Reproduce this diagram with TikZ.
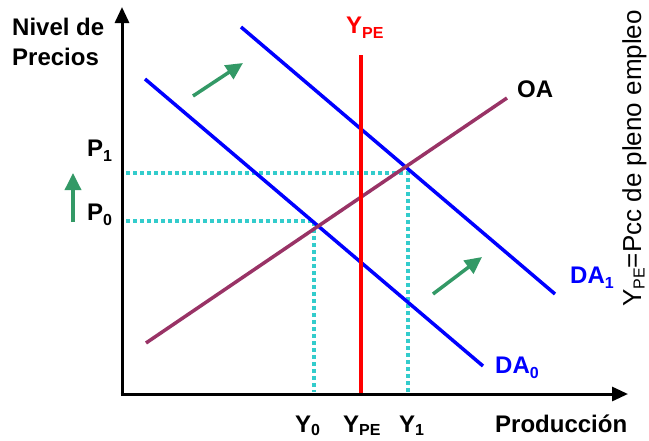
\documentclass[tikz,border=0pt]{standalone}
\usepackage{fontspec}
\setmainfont{Liberation Sans}
\usetikzlibrary{arrows.meta}
\definecolor{dotc}{RGB}{51,204,204}
\definecolor{oac}{RGB}{153,51,102}
\definecolor{grn}{RGB}{51,153,102}
\definecolor{dablue}{RGB}{0,0,255}
\definecolor{ypered}{RGB}{255,0,0}
\newcommand\mysub[1]{\raisebox{-5pt}{\fontsize{16}{16}\selectfont #1}}
\newcommand\mysublow[1]{\raisebox{-3.5pt}{\fontsize{16}{16}\selectfont #1}}
\newcommand\mysubthin[1]{\raisebox{-3.5pt}{\fontsize{16}{16}\selectfont #1}}
\begin{document}
\begin{tikzpicture}[x=1pt,y=-1pt,
  lbl/.style={anchor=base west,inner sep=0pt,font=\fontsize{24}{26}\selectfont\bfseries},
  axisline/.style={line width=3pt,-{Triangle[length=16pt,width=14pt]}},
  curve/.style={line width=3.5pt},
  guide/.style={line width=4pt,dotc,dash pattern=on 4pt off 3pt},
  shiftarrow/.style={line width=3.5pt,grn,-{Triangle[length=17pt,width=16pt]}}
]
\useasboundingbox (0,0) rectangle (649,440);
% named coordinates
\coordinate (O) at (122,394);
\coordinate (ytop) at (122,7);
\coordinate (xend) at (628,394);
\coordinate (da0a) at (145,79);
\coordinate (da0b) at (483,366);
\coordinate (da1a) at (241,27);
\coordinate (da1b) at (555,294);
\coordinate (oaa) at (146,343);
\coordinate (oab) at (507,98);
\coordinate (ypea) at (361,55);
\coordinate (ypeb) at (361,396);
\coordinate (p1l) at (126,173);
\coordinate (e1) at (408,173);
\coordinate (y1b) at (408,392);
\coordinate (p0l) at (126,221);
\coordinate (e0) at (314,221);
\coordinate (y0b) at (314,392);
\coordinate (g1a) at (193,96);
\coordinate (g1b) at (243,63);
\coordinate (g2a) at (433,294);
\coordinate (g2b) at (482,257);
\coordinate (g3a) at (73,222);
\coordinate (g3b) at (73,173);
% guides
\draw[guide] (p1l) -- (e1) -- (y1b);
\draw[guide] (p0l) -- (e0) -- (y0b);
% curves
\draw[curve,dablue] (da0a) -- (da0b);
\draw[curve,dablue] (da1a) -- (da1b);
\draw[curve,oac] (oaa) -- (oab);
\draw[curve,ypered] (ypea) -- (ypeb);
% axes
\draw[axisline] ([yshift=1.5pt]O) -- (ytop);
\draw[axisline] ([xshift=-1.5pt]O) -- (xend);
% green arrows
\draw[shiftarrow] (g1a) -- (g1b);
\draw[shiftarrow] (g2a) -- (g2b);
\draw[shiftarrow] (g3a) -- (g3b);
% labels
\node[lbl] (nivel) at (12,35) {Nivel de};
\node[lbl] (precios) at (12,65) {Precios};
\node[lbl,text=ypered] (ypetop) at (346,33) {Y\mysub{PE}};
\node[lbl] (oa) at (517,97) {OA};
\node[lbl] (p1) at (87,156) {P\mysub{1}};
\node[lbl] (p0) at (87,220) {P\mysub{0}};
\node[lbl] (y0) at (295,432) {Y\mysublow{0}};
\node[lbl] (ype) at (343,432) {Y\mysublow{PE}};
\node[lbl] (y1) at (399,432) {Y\mysublow{1}};
\node[lbl] (prod) at (495,432) {Producción};
\node[lbl,text=dablue] (da0) at (495,373) {DA\mysub{0}};
\node[lbl,text=dablue] (da1) at (570,283) {DA\mysub{1}};
\node[anchor=base west,inner sep=0pt,rotate=90,font=\fontsize{26}{28}\selectfont] (note) at (641,307) {Y\mysubthin{PE}=Pcc de pleno empleo};
\end{tikzpicture}
\end{document}
